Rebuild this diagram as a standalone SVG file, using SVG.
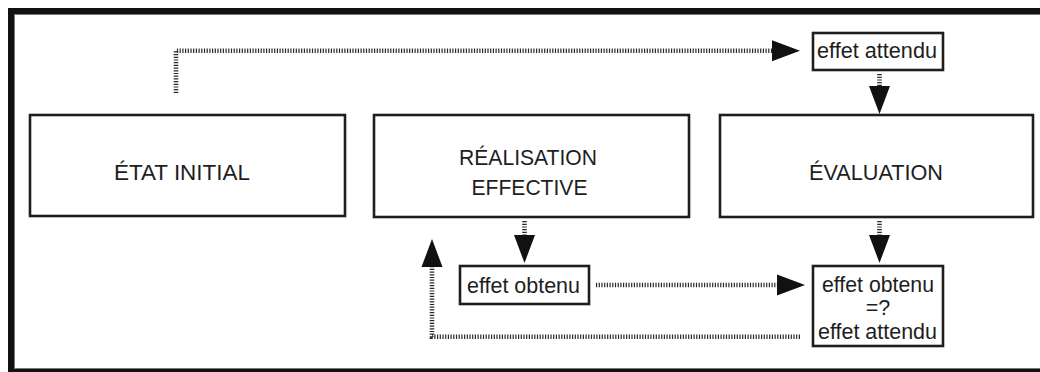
<svg xmlns="http://www.w3.org/2000/svg" width="1040" height="372" viewBox="0 0 1040 372">
<defs>
<style>
.box{fill:#fff;stroke:#1e1e1e;stroke-width:2.6}
.t{font-family:"Liberation Sans",Arial,sans-serif;font-size:21.5px;fill:#1e1e1e;text-anchor:middle}
.dot{fill:none;stroke:#2a2a2a;stroke-width:4.6;stroke-dasharray:1.2 1.5}
</style>
<marker id="ah" markerUnits="userSpaceOnUse" markerWidth="28" markerHeight="21" refX="0" refY="10.5" orient="auto" overflow="visible">
<path d="M0,0 L28,10.5 L0,21 Z" fill="#111"/>
</marker>
</defs>
<rect x="0" y="0" width="1040" height="372" fill="#fff"/>
<rect x="11" y="11" width="1040" height="361" fill="none" stroke="#111" stroke-width="6"/>
<rect x="14.5" y="14.5" width="1040" height="354" fill="none" stroke="#777" stroke-width="1"/>

<g id="etat-initial">
<rect class="box" x="30" y="115" width="315" height="101"/>
<text class="t" x="182" y="180" textLength="136" lengthAdjust="spacingAndGlyphs">ÉTAT INITIAL</text>
</g>
<g id="realisation">
<rect class="box" x="374" y="115" width="315" height="102"/>
<text class="t" x="528" y="165" textLength="138" lengthAdjust="spacingAndGlyphs">RÉALISATION</text>
<text class="t" x="529.5" y="195" textLength="116" lengthAdjust="spacingAndGlyphs">EFFECTIVE</text>
</g>
<g id="evaluation">
<rect class="box" x="720" y="115" width="313" height="102"/>
<text class="t" x="876" y="180" textLength="134" lengthAdjust="spacingAndGlyphs">ÉVALUATION</text>
</g>
<g id="effet-attendu">
<rect class="box" x="813" y="33" width="130" height="37"/>
<text class="t" x="877" y="58" textLength="120" lengthAdjust="spacingAndGlyphs">effet attendu</text>
</g>
<g id="effet-obtenu">
<rect class="box" x="460" y="266" width="129" height="38"/>
<text class="t" x="523.5" y="292.5" textLength="113" lengthAdjust="spacingAndGlyphs">effet obtenu</text>
</g>
<g id="comparaison">
<rect class="box" x="813" y="266" width="130" height="80"/>
<text class="t" x="878" y="291.5" textLength="112" lengthAdjust="spacingAndGlyphs">effet obtenu</text>
<text class="t" x="878" y="315">=?</text>
<text class="t" x="877.5" y="338.5" textLength="119" lengthAdjust="spacingAndGlyphs">effet attendu</text>
</g>

<g id="connectors">
<path class="dot" d="M176,93 V50.7 H772" marker-end="url(#ah)"/>
<path class="dot" d="M879.5,74 V86" marker-end="url(#ah)"/>
<path class="dot" d="M879.5,221 V235" marker-end="url(#ah)"/>
<path class="dot" d="M524.5,221 V235" marker-end="url(#ah)"/>
<path class="dot" d="M596,285 H777" marker-end="url(#ah)"/>
<path class="dot" d="M800,336.7 H432 V267" marker-end="url(#ah)"/>
</g>
</svg>
